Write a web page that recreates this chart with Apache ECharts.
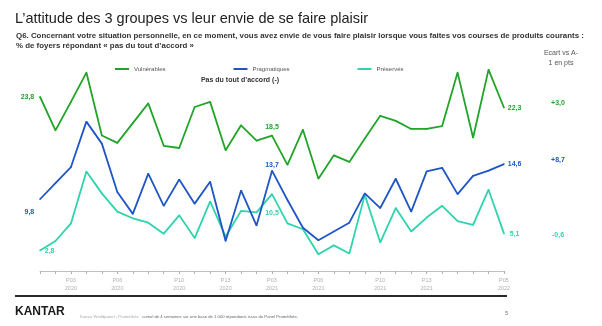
<!DOCTYPE html>
<html>
<head>
<meta charset="utf-8">
<script src="https://cdn.jsdelivr.net/npm/echarts@6/dist/echarts.min.js"></script>
<style>html,body{margin:0;padding:0;background:#fff}#c{width:602px;height:326px}</style>
</head>
<body>
<div id="c"></div>
<script>
// Periods P01 2020 .. P05 2022
const categories = [
  'P01\n2020','P02\n2020','P03\n2020','P04\n2020','P05\n2020','P06\n2020','P07\n2020','P08\n2020','P09\n2020','P10\n2020','P11\n2020','P12\n2020','P13\n2020',
  'P01\n2021','P02\n2021','P03\n2021','P04\n2021','P05\n2021','P06\n2021','P07\n2021','P08\n2021','P09\n2021','P10\n2021','P11\n2021','P12\n2021','P13\n2021',
  'P01\n2022','P02\n2022','P03\n2022','P04\n2022','P05\n2022'
];
const shownTickIdx = [2, 5, 9, 12, 15, 18, 22, 25, 30];
const vulnerables = [23.8,19.2,23.1,27.1,18.5,17.5,20.2,22.9,17.1,16.8,22.4,23.1,16.5,19.9,17.8,18.5,14.5,19.3,12.6,15.8,14.9,18.1,21.2,20.5,19.4,19.4,19.8,27.1,18.2,27.5,22.3];
const pragmatiques = [9.8,12.0,14.2,20.4,17.4,10.8,7.8,13.3,8.9,12.5,9.2,12.2,4.1,11.0,6.2,13.7,9.7,5.9,4.2,5.4,6.6,10.6,8.6,12.6,8.1,13.6,14.1,10.5,13.0,13.7,14.6];
const preserves = [2.8,4.1,6.5,13.6,10.6,8.1,7.2,6.6,5.1,7.6,4.5,9.5,4.7,8.2,8.0,10.5,6.5,5.7,2.3,3.5,2.4,10.4,3.9,8.6,5.4,7.3,8.9,6.8,6.3,11.1,5.1];
const seriesNames = ['Vulnérables','Pragmatiques','Préservés'];
const ecarts = ['+3,0','+8,7','-0,6'];
const colors = ['#22a32a','#1f56c4','#2fd3ae'];

const fmt = v => v.toFixed(1).replace('.', ',');
const FONT = '"Liberation Sans", Arial, sans-serif';

// label placement per series: [first, middle(idx15), last]
const labelCfg = [
  {first:{position:'left',distance:5}, mid:{position:'top',distance:4}, last:{position:'right',distance:3}},
  {first:{position:'left',distance:5,offset:[0,13]}, mid:{position:'top',distance:1}, last:{position:'right',distance:3}},
  {first:{position:'right',distance:4,offset:[0,1]}, mid:{position:'bottom',distance:15}, last:{position:'right',distance:5}}
];
const midIdx = 15;

function buildData(values, si) {
  return values.map((v, i) => {
    let cfg = null;
    if (i === 0) cfg = labelCfg[si].first;
    else if (i === values.length - 1) cfg = labelCfg[si].last;
    else if (i === midIdx) cfg = labelCfg[si].mid;
    if (!cfg) return v;
    return {value: v, label: Object.assign({show: true, formatter: p => fmt(p.value)}, cfg)};
  });
}

const allSeries = [vulnerables, pragmatiques, preserves].map((vals, si) => ({
  name: seriesNames[si],
  type: 'line',
  data: buildData(vals, si),
  symbol: 'circle',
  symbolSize: 1.5,
  showSymbol: true,
  smooth: false,
  lineStyle: {width: 1.8, color: colors[si]},
  itemStyle: {color: colors[si]},
  label: {show: false, color: colors[si], fontWeight: 'bold', fontSize: 7, fontFamily: FONT},
  z: 3 - si
}));

const chart = echarts.init(document.getElementById('c'), null, {renderer: 'canvas'});
chart.setOption({
  animation: false,
  textStyle: {fontFamily: FONT},
  grid: {left: 40, right: 98, top: 66, bottom: 55, containLabel: false},
  legend: {
    data: seriesNames,
    left: 110, top: 61,
    itemGap: 68,
    itemTextGap: 2,
    icon: 'rect', itemWidth: 14, itemHeight: 2,
    textStyle: {fontSize: 6, color: '#555', fontFamily: FONT}
  },
  xAxis: {
    type: 'category',
    data: categories,
    boundaryGap: false,
    axisLine: {lineStyle: {color: '#c0c0c0', width: 1}},
    axisTick: {show: true, interval: 0, length: 3, lineStyle: {color: '#b0b0b0'}},
    axisLabel: {
      interval: (i) => shownTickIdx.includes(i),
      fontSize: 5.5, color: '#b0b0b0', lineHeight: 8, margin: 5, fontFamily: FONT
    }
  },
  yAxis: {type: 'value', min: 0, max: 28, show: false, splitLine: {show: false}},
  series: allSeries,
  graphic: [
    {type: 'text', left: 15, top: 11, style: {text: 'L\u2019attitude des 3 groupes vs leur envie de se faire plaisir', font: '14.5px ' + FONT, fill: '#222'}},
    {type: 'text', left: 16, top: 31, style: {text: 'Q6. Concernant votre situation personnelle, en ce moment, vous avez envie de vous faire plaisir lorsque vous faites vos courses de produits courants :\n% de foyers répondant « pas du tout d\u2019accord »', font: 'bold 7.9px ' + FONT, fill: '#333', lineHeight: 10}},
    {type: 'text', x: 561, y: 48, style: {text: 'Ecart vs A-\n1 en pts', font: '7px ' + FONT, fill: '#555', align: 'center', lineHeight: 10}},
    {type: 'text', x: 240, y: 77, style: {text: 'Pas du tout d\u2019accord (-)', font: 'bold 7px ' + FONT, fill: '#333', align: 'center'}},
    {type: 'text', x: 558, y: 100, style: {text: ecarts[0], font: 'bold 7px ' + FONT, fill: colors[0], align: 'center'}},
    {type: 'text', x: 558, y: 157, style: {text: ecarts[1], font: 'bold 7px ' + FONT, fill: colors[1], align: 'center'}},
    {type: 'text', x: 558, y: 232, style: {text: ecarts[2], font: 'bold 7px ' + FONT, fill: colors[2], align: 'center'}},
    {type: 'line', shape: {x1: 15, y1: 296, x2: 507, y2: 296}, style: {stroke: '#2b2b2b', lineWidth: 2}},
    {type: 'text', left: 15, top: 306, style: {text: 'KANTAR', font: 'bold 12px ' + FONT, fill: '#1a1a1a'}},
    {type: 'text', left: 80, top: 311, style: {
      text: '{a|Kantar Worldpanel - Prométhée} {b|cumul de 4 semaines sur une base de 1 000 répondants issus du Panel Prométhée,}',
      rich: {a: {fontSize: 4.2, fill: '#aaa', fontFamily: FONT}, b: {fontSize: 4.2, fill: '#666', fontFamily: FONT}}
    }},
    {type: 'text', left: 505, top: 310, style: {text: '5', font: '6px ' + FONT, fill: '#777'}}
  ]
});
</script>
</body>
</html>
